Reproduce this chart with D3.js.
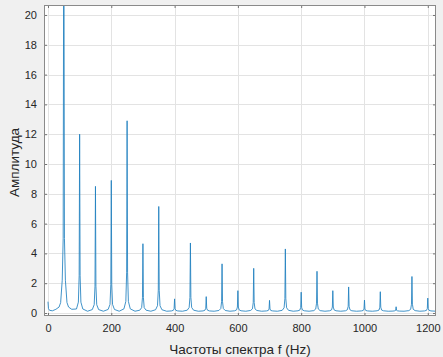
<!DOCTYPE html>
<html lang="ru">
<head>
    <meta charset="UTF-8">
    <title>Spectrum</title>
    <script src="https://d3js.org/d3.v7.min.js"></script>
    <style>
        body { margin: 0; background: #f0f0f0; }
        svg text { font-family: "Liberation Sans", Arial, sans-serif; fill: #262626; }
    </style>
</head>
<body>
    <script>
        // tick values
        const xTicks = [0, 200, 400, 600, 800, 1000, 1200];
        const yTicks = [0, 2, 4, 6, 8, 10, 12, 14, 16, 18, 20];

        // harmonic peaks (50 Hz peak goes off the top)
        const peakFreqs = [0, 50, 100, 150, 200, 250, 300, 350, 400, 450, 500, 550, 600,
                           650, 700, 750, 800, 850, 900, 950, 1000, 1050, 1100, 1150, 1200];
        const peakAmps  = [0.76, 30, 12.0, 8.5, 8.9, 12.9, 4.65, 7.15, 0.95, 4.7, 1.1, 3.3, 1.5,
                           3.0, 0.85, 4.3, 1.4, 2.8, 1.5, 1.75, 0.87, 1.43, 0.42, 2.45, 1.0];

        // spectrum trace [frequency, amplitude]
        const spectrum = [
            [0, 0.76], [1.5, 0.3], [5, 0.18], [14, 0.15],
            [25, 0.25], [35, 0.4], [40, 0.7], [45, 2.2], [48, 5], [50, 30], [52, 5], [55, 2.2], [60, 0.7], [65, 0.4], [75, 0.25],
            [90, 0.27], [96, 0.73], [98.5, 2.5], [100, 12.0], [101.5, 2.5], [104, 0.73], [110, 0.27],
            [125, 0.12],
            [140, 0.23], [146, 0.56], [148.5, 1.8], [150, 8.5], [151.5, 1.8], [154, 0.56], [160, 0.23],
            [175, 0.12],
            [190, 0.24], [196, 0.58], [198.5, 1.9], [200, 8.9], [201.5, 1.9], [204, 0.58], [210, 0.24],
            [225, 0.12],
            [240, 0.28], [246, 0.78], [248.5, 2.7], [250, 12.9], [251.5, 2.7], [254, 0.78], [260, 0.28],
            [275, 0.12],
            [290, 0.19], [296, 0.36], [298.5, 1.03], [300, 4.65], [301.5, 1.03], [304, 0.36], [310, 0.19],
            [325, 0.12],
            [340, 0.22], [346, 0.49], [348.5, 1.53], [350, 7.15], [351.5, 1.53], [354, 0.49], [360, 0.22],
            [375, 0.12],
            [390, 0.14], [396, 0.18], [398.5, 0.29], [400, 0.95], [401.5, 0.29], [404, 0.18], [410, 0.14],
            [425, 0.12],
            [440, 0.19], [446, 0.37], [448.5, 1.04], [450, 4.7], [451.5, 1.04], [454, 0.37], [460, 0.19],
            [475, 0.12],
            [490, 0.14], [496, 0.19], [498.5, 0.32], [500, 1.1], [501.5, 0.32], [504, 0.19], [510, 0.14],
            [525, 0.12],
            [540, 0.17], [546, 0.3], [548.5, 0.76], [550, 3.3], [551.5, 0.76], [554, 0.3], [560, 0.17],
            [575, 0.12],
            [590, 0.15], [596, 0.21], [598.5, 0.4], [600, 1.5], [601.5, 0.4], [604, 0.21], [610, 0.15],
            [625, 0.12],
            [640, 0.17], [646, 0.28], [648.5, 0.7], [650, 3.0], [651.5, 0.7], [654, 0.28], [660, 0.17],
            [675, 0.12],
            [690, 0.14], [696, 0.17], [698.5, 0.27], [700, 0.85], [701.5, 0.27], [704, 0.17], [710, 0.14],
            [725, 0.12],
            [740, 0.18], [746, 0.35], [748.5, 0.96], [750, 4.3], [751.5, 0.96], [754, 0.35], [760, 0.18],
            [775, 0.12],
            [790, 0.15], [796, 0.2], [798.5, 0.38], [800, 1.4], [801.5, 0.38], [804, 0.2], [810, 0.15],
            [825, 0.12],
            [840, 0.16], [846, 0.27], [848.5, 0.66], [850, 2.8], [851.5, 0.66], [854, 0.27], [860, 0.16],
            [875, 0.12],
            [890, 0.15], [896, 0.21], [898.5, 0.4], [900, 1.5], [901.5, 0.4], [904, 0.21], [910, 0.15],
            [925, 0.12],
            [940, 0.15], [946, 0.22], [948.5, 0.45], [950, 1.75], [951.5, 0.45], [954, 0.22], [960, 0.15],
            [975, 0.12],
            [990, 0.14], [996, 0.17], [998.5, 0.27], [1000, 0.87], [1001.5, 0.27], [1004, 0.17], [1010, 0.14],
            [1025, 0.12],
            [1040, 0.15], [1046, 0.2], [1048.5, 0.39], [1050, 1.43], [1051.5, 0.39], [1054, 0.2], [1060, 0.15],
            [1075, 0.12],
            [1090, 0.13], [1096, 0.15], [1098.5, 0.18], [1100, 0.42], [1101.5, 0.18], [1104, 0.15], [1110, 0.13],
            [1125, 0.12],
            [1140, 0.16], [1146, 0.25], [1148.5, 0.59], [1150, 2.45], [1151.5, 0.59], [1154, 0.25], [1160, 0.16],
            [1175, 0.12],
            [1190, 0.14], [1196, 0.18], [1198.5, 0.3], [1200, 1.0], [1201.5, 0.3], [1204, 0.18], [1210, 0.14],
            [1226, 0.12]
        ];

        const width = 443, height = 357;
        const axLeft = 44, axRight = 436, axTop = 5, axBottom = 316;

        const svg = d3.select("body").append("svg")
            .attr("width", width)
            .attr("height", height);

        svg.append("rect")
            .attr("width", width).attr("height", height)
            .attr("fill", "#f0f0f0");

        const x = d3.scaleLinear().domain([-12.6, 1226]).range([axLeft, axRight]);
        const y = d3.scaleLinear().domain([-0.2, 20.67]).range([axBottom, axTop]);

        svg.append("defs").append("clipPath").attr("id", "plot-clip")
            .append("rect")
            .attr("x", axLeft).attr("y", axTop)
            .attr("width", axRight - axLeft).attr("height", axBottom - axTop);

        // axes background
        svg.append("rect")
            .attr("x", axLeft).attr("y", axTop)
            .attr("width", axRight - axLeft).attr("height", axBottom - axTop)
            .attr("fill", "#fff");

        // grid
        const grid = svg.append("g").attr("stroke", "#e3e3e3").attr("stroke-width", 1);
        grid.selectAll(".gx").data(xTicks).enter().append("line")
            .attr("x1", d => Math.round(x(d)) + 0.5).attr("x2", d => Math.round(x(d)) + 0.5)
            .attr("y1", axTop).attr("y2", axBottom);
        grid.selectAll(".gy").data(yTicks).enter().append("line")
            .attr("y1", d => Math.round(y(d)) + 0.5).attr("y2", d => Math.round(y(d)) + 0.5)
            .attr("x1", axLeft).attr("x2", axRight);

        // spectrum line
        const line = d3.line().x(d => x(d[0])).y(d => y(d[1]));
        svg.append("path")
            .datum(spectrum)
            .attr("clip-path", "url(#plot-clip)")
            .attr("fill", "none")
            .attr("stroke", "#1f7fbf")
            .attr("stroke-width", 0.85)
            .attr("stroke-linejoin", "round")
            .attr("d", line);

        // axes with inward ticks
        const fmt = d3.format("d");
        const xAxisB = d3.axisBottom(x).tickValues(xTicks).tickFormat(fmt).tickSizeInner(-3).tickSizeOuter(0).tickPadding(8);
        const xAxisT = d3.axisTop(x).tickValues(xTicks).tickSizeInner(-3).tickSizeOuter(0).tickFormat("");
        const yAxisL = d3.axisLeft(y).tickValues(yTicks).tickFormat(fmt).tickSizeInner(-3).tickSizeOuter(0).tickPadding(7);
        const yAxisR = d3.axisRight(y).tickValues(yTicks).tickSizeInner(-3).tickSizeOuter(0).tickFormat("");

        function styleAxis(g) {
            g.select(".domain").remove();
            g.selectAll("line").attr("stroke", "#262626").attr("stroke-width", 0.6);
            g.selectAll("text").attr("font-size", 11).attr("fill", "#262626")
                .attr("font-family", "'Liberation Sans', Arial, sans-serif");
        }

        svg.append("g").attr("transform", `translate(0,${axBottom})`).call(xAxisB).call(styleAxis);
        svg.append("g").attr("transform", `translate(0,${axTop})`).call(xAxisT).call(styleAxis);
        svg.append("g").attr("transform", `translate(${axLeft},0)`).call(yAxisL).call(styleAxis);
        svg.append("g").attr("transform", `translate(${axRight},0)`).call(yAxisR).call(styleAxis);

        // axes box
        svg.append("rect")
            .attr("x", axLeft + 0.5).attr("y", axTop + 0.5)
            .attr("width", axRight - axLeft - 1).attr("height", axBottom - axTop - 1)
            .attr("fill", "none")
            .attr("stroke", "#8a8a8a")
            .attr("stroke-width", 1);

        // labels
        svg.append("text")
            .attr("x", (axLeft + axRight) / 2).attr("y", 354)
            .attr("text-anchor", "middle")
            .attr("font-size", 13.5)
            .text("Частоты спектра f (Hz)");

        svg.append("text")
            .attr("transform", `translate(19,${(axTop + axBottom) / 2 + 2}) rotate(-90)`)
            .attr("text-anchor", "middle")
            .attr("font-size", 13.5)
            .text("Амплитуда");
    </script>
</body>
</html>
